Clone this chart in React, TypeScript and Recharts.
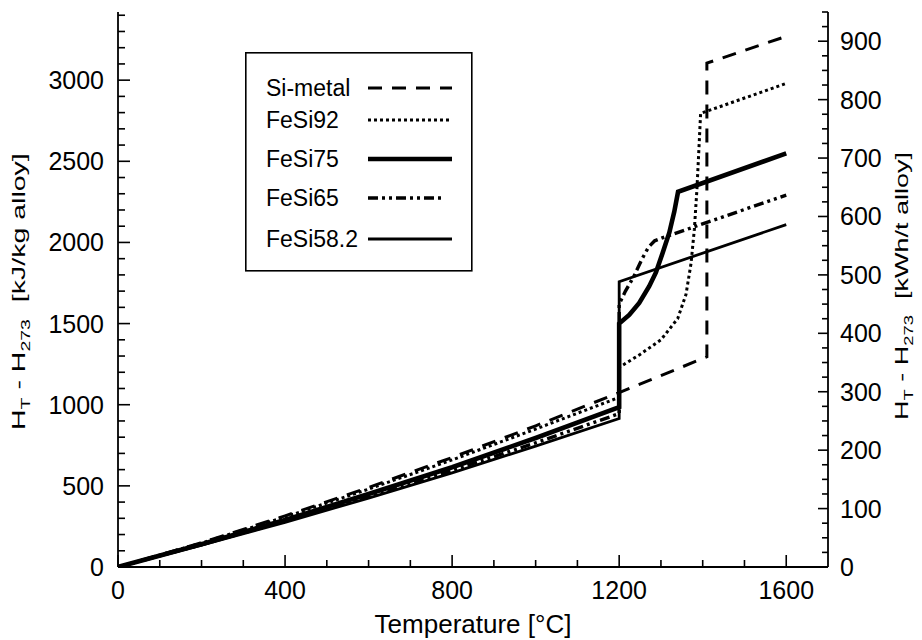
import React from 'react';
import { LineChart, Line, XAxis, YAxis } from 'recharts';

const FONT = '"Liberation Sans", Arial, Helvetica, sans-serif';

// Temperature [°C] / enthalpy H_T - H_273 [kJ/kg alloy]
const siMetalT = [0, 200, 400, 600, 800, 1000, 1200, 1410, 1410, 1600];
const siMetalH = [0, 150, 315, 490, 675, 870, 1075, 1295, 3105, 3270];

const feSi92T = [0, 200, 400, 600, 800, 1000, 1200, 1200, 1250, 1300, 1340, 1360, 1372, 1380, 1386, 1391, 1395, 1600];
const feSi92H = [0, 148, 308, 480, 660, 850, 1045, 1230, 1310, 1400, 1530, 1680, 1870, 2080, 2320, 2580, 2795, 2980];

const feSi75T = [0, 200, 400, 600, 800, 1000, 1200, 1200, 1224, 1248, 1272, 1288, 1304, 1320, 1332, 1341, 1600];
const feSi75H = [0, 140, 290, 450, 615, 795, 985, 1500, 1553, 1627, 1730, 1815, 1935, 2060, 2190, 2312, 2549];

const feSi65T = [0, 200, 400, 600, 800, 1000, 1200, 1200, 1215, 1235, 1255, 1270, 1285, 1305, 1600];
const feSi65H = [0, 138, 282, 435, 595, 765, 945, 1620, 1700, 1790, 1900, 1970, 2010, 2030, 2292];

const feSi582T = [0, 200, 400, 600, 800, 1000, 1200, 1200, 1600];
const feSi582H = [0, 135, 275, 425, 580, 745, 915, 1758, 2110];

// tick labels
const xLabels = [0, 400, 800, 1200, 1600];
const leftLabels = [0, 500, 1000, 1500, 2000, 2500, 3000];
const rightLabels = [0, 100, 200, 300, 400, 500, 600, 700, 800, 900];

const X_MAX = 1700;
const LEFT_MAX = 3420;
const RIGHT_MAX = 950;

const steps = (max: number, step: number) => {
  const out: number[] = [];
  for (let v = 0; v <= max + 1e-9; v += step) out.push(v);
  return out;
};
const xMinorTicks = steps(1600, 100);
const leftMinorTicks = steps(3400, 100);
const rightMinorTicks = steps(950, 25);

const toRows = (t: number[], h: number[]) => t.map((v, i) => ({ t: v, h: h[i] }));

const series = [
  { name: 'Si-metal', data: toRows(siMetalT, siMetalH), width: 3, dash: '14 10', x2: 207 },
  { name: 'FeSi92', data: toRows(feSi92T, feSi92H), width: 3, dash: '3 3', x2: 207 },
  { name: 'FeSi75', data: toRows(feSi75T, feSi75H), width: 4.6, dash: undefined, x2: 207 },
  { name: 'FeSi65', data: toRows(feSi65T, feSi65H), width: 3.4, dash: '10 4 3 4 3 4', x2: 198 },
  { name: 'FeSi58.2', data: toRows(feSi582T, feSi582H), width: 2.8, dash: undefined, x2: 207 },
];

const TICK_FS = 25;
const TICK_W = 1.6;

const BottomTick = (props: any) => {
  const { x, y, payload } = props;
  const v = payload.value;
  const major = xLabels.includes(v);
  return (
    <g>
      <line x1={x} y1={y} x2={x} y2={y - (major ? 12 : 7)} stroke="#000" strokeWidth={TICK_W} />
      {major && (
        <text x={x} y={y + 32} textAnchor="middle" fontSize={TICK_FS} fontFamily={FONT} fill="#000">
          {v}
        </text>
      )}
    </g>
  );
};

const TopTick = (props: any) => {
  const { x, y } = props;
  return <line x1={x} y1={y} x2={x} y2={y + 12} stroke="#000" strokeWidth={TICK_W} />;
};

const LeftTick = (props: any) => {
  const { x, y, payload } = props;
  const v = payload.value;
  const major = leftLabels.includes(v);
  return (
    <g>
      <line x1={x} y1={y} x2={x + (major ? 12 : 7)} y2={y} stroke="#000" strokeWidth={TICK_W} />
      {major && (
        <text x={x - 14} y={y} dy="0.36em" textAnchor="end" fontSize={TICK_FS} fontFamily={FONT} fill="#000">
          {v}
        </text>
      )}
    </g>
  );
};

const RightTick = (props: any) => {
  const { x, y, payload } = props;
  const v = payload.value;
  const major = rightLabels.includes(v);
  return (
    <g>
      <line x1={x} y1={y} x2={x - (major ? 10 : 6)} y2={y} stroke="#000" strokeWidth={TICK_W} />
      {major && (
        <text x={x + 12} y={y} dy="0.36em" textAnchor="start" fontSize={TICK_FS} fontFamily={FONT} fill="#000">
          {v}
        </text>
      )}
    </g>
  );
};

const TITLE_FS = 19;
const SUB_FS = 13;

const VerticalTitle = ({ x, y, scale, unit }: { x: number; y: number; scale: number; unit: string }) => (
  <text
    transform={`translate(${x},${y}) rotate(-90) scale(${scale},1)`}
    fontSize={TITLE_FS}
    fontFamily={FONT}
    fill="#000"
    textAnchor="start"
  >
    <tspan>H</tspan>
    <tspan dy={5} fontSize={SUB_FS}>T</tspan>
    <tspan dy={-5}>{'\u00a0-\u00a0H'}</tspan>
    <tspan dy={5} fontSize={SUB_FS}>273</tspan>
    <tspan dy={-5} dx={6}>{'\u00a0[' + unit + ']'}</tspan>
  </text>
);

const axisLine = { stroke: '#000', strokeWidth: 1.8 };

export default function App() {
  return (
    <div style={{ position: 'relative', width: 914, height: 632, background: '#fff' }}>
      <LineChart width={914} height={632} margin={{ top: 4, right: 0, bottom: 0, left: 0 }}>
        <XAxis
          xAxisId="bottom"
          type="number"
          dataKey="t"
          domain={[0, X_MAX]}
          allowDataOverflow
          ticks={xMinorTicks}
          interval={0}
          tick={<BottomTick />}
          tickLine={false}
          tickSize={0}
          tickMargin={0}
          axisLine={axisLine}
          height={73}
          label={{
            content: () => (
              <text x={465} y={625} textAnchor="middle" fontSize={26} fontFamily={FONT} fill="#000">
                Temperature [°C]
              </text>
            ),
          }}
        />
        <XAxis
          xAxisId="top"
          orientation="top"
          type="number"
          domain={[0, X_MAX]}
          allowDataOverflow
          ticks={xLabels}
          interval={0}
          tick={<TopTick />}
          tickLine={false}
          tickSize={0}
          tickMargin={0}
          axisLine={axisLine}
          height={0}
        />
        <YAxis
          yAxisId="left"
          type="number"
          domain={[0, LEFT_MAX]}
          allowDataOverflow
          ticks={leftMinorTicks}
          interval={0}
          tick={<LeftTick />}
          tickLine={false}
          tickSize={0}
          tickMargin={0}
          axisLine={axisLine}
          width={110}
          label={{ content: () => <VerticalTitle x={17} y={422} scale={1.5} unit="kJ/kg alloy" /> }}
        />
        <YAxis
          yAxisId="right"
          orientation="right"
          type="number"
          domain={[0, RIGHT_MAX]}
          allowDataOverflow
          ticks={rightMinorTicks}
          interval={0}
          tick={<RightTick />}
          tickLine={false}
          tickSize={0}
          tickMargin={0}
          axisLine={axisLine}
          width={94}
          label={{ content: () => <VerticalTitle x={900} y={412} scale={1.42} unit="kWh/t alloy" /> }}
        />
        {series.map((s) => (
          <Line
            key={s.name}
            xAxisId="bottom"
            yAxisId="left"
            data={s.data}
            dataKey="h"
            name={s.name}
            type="linear"
            stroke="#000"
            strokeWidth={s.width}
            strokeDasharray={s.dash}
            dot={false}
            activeDot={false}
            isAnimationActive={false}
          />
        ))}
      </LineChart>
      <svg
        width={228}
        height={220}
        style={{ position: 'absolute', left: 237, top: 44 }}
      >
        <rect x={0.8} y={0.8} width={226} height={218} fill="#fff" stroke="#000" strokeWidth={1.6} />
        {series.map((s, i) => {
          const cy = [36, 68, 107, 146, 187][i];
          return (
            <g key={s.name}>
              <text x={21} y={cy + 8} fontSize={23} fontFamily={FONT} fill="#000">
                {s.name}
              </text>
              <line
                x1={123}
                y1={cy}
                x2={s.x2}
                y2={cy}
                stroke="#000"
                strokeWidth={s.width}
                strokeDasharray={s.dash}
              />
            </g>
          );
        })}
      </svg>
    </div>
  );
}
